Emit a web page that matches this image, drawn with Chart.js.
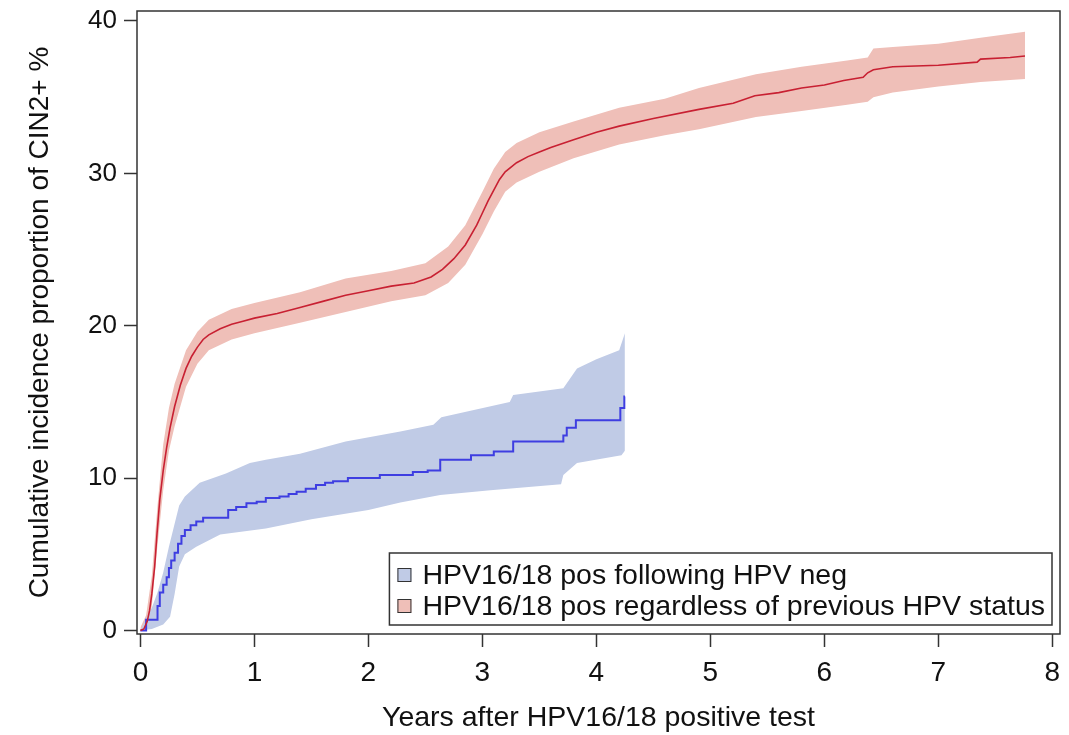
<!DOCTYPE html>
<html>
<head>
<meta charset="utf-8">
<script src="https://cdn.jsdelivr.net/npm/chart.js@4"></script>
<style>
  html, body { margin: 0; padding: 0; background: #fff; }
  #wrap { width: 1069px; height: 735px; }
</style>
</head>
<body>
<div id="wrap"><canvas id="cinChart" width="1069" height="735"></canvas></div>
<script>
// axis ticks
const xTicks = [0, 1, 2, 3, 4, 5, 6, 7, 8];
const yTicks = [0, 10, 20, 30, 40];
const xTitle = 'Years after HPV16/18 positive test';
const yTitle = 'Cumulative incidence proportion of CIN2+ %';

// HPV16/18 pos regardless of previous HPV status (red)
const redLabel = 'HPV16/18 pos regardless of previous HPV status';
const redTime = [0, 0.03, 0.06, 0.08, 0.10, 0.125, 0.146, 0.17, 0.2, 0.23, 0.26, 0.3, 0.35, 0.4, 0.45, 0.5, 0.55, 0.6, 0.7, 0.8, 0.9, 1.0, 1.2, 1.4, 1.6, 1.8, 2.0, 2.2, 2.4, 2.55, 2.65, 2.75, 2.85, 2.95, 3.0, 3.05, 3.1, 3.15, 3.2, 3.3, 3.4, 3.5, 3.6, 3.8, 4.0, 4.2, 4.5, 4.9, 5.2, 5.39, 5.6, 5.8, 6.0, 6.17, 6.34, 6.38, 6.43, 6.6, 7.0, 7.34, 7.37, 7.63, 7.76];
const redEst = [0, 0.1, 0.6, 1.3, 2.4, 4.2, 6.4, 8.6, 10.5, 12.0, 13.3, 14.7, 16.1, 17.2, 18.0, 18.6, 19.1, 19.4, 19.8, 20.1, 20.3, 20.5, 20.8, 21.2, 21.6, 22.0, 22.3, 22.6, 22.8, 23.2, 23.7, 24.4, 25.3, 26.6, 27.4, 28.2, 28.9, 29.6, 30.1, 30.7, 31.1, 31.4, 31.7, 32.2, 32.7, 33.1, 33.6, 34.2, 34.6, 35.1, 35.3, 35.6, 35.8, 36.1, 36.3, 36.6, 36.8, 37.0, 37.1, 37.3, 37.5, 37.6, 37.7];
const redBandTime = [0, 0.05, 0.1, 0.15, 0.2, 0.25, 0.3, 0.4, 0.5, 0.6, 0.8, 1.0, 1.4, 1.8, 2.2, 2.5, 2.7, 2.85, 3.0, 3.1, 3.2, 3.3, 3.5, 3.8, 4.2, 4.6, 4.9, 5.4, 5.8, 6.2, 6.38, 6.43, 6.6, 7.0, 7.37, 7.76];
const redUpper = [0.2, 1.0, 3.6, 8.2, 12.2, 14.6, 16.2, 18.4, 19.6, 20.4, 21.1, 21.5, 22.2, 23.1, 23.6, 24.1, 25.2, 26.6, 28.8, 30.3, 31.4, 32.0, 32.7, 33.4, 34.3, 34.9, 35.6, 36.5, 37.0, 37.4, 37.6, 38.2, 38.3, 38.5, 38.9, 39.3];
const redLower = [0, 0, 1.6, 5.6, 9.2, 11.8, 13.4, 16.0, 17.5, 18.4, 19.1, 19.5, 20.2, 20.9, 21.6, 22.0, 22.8, 24.0, 26.0, 27.5, 28.8, 29.4, 30.1, 31.0, 31.9, 32.5, 32.9, 33.7, 34.1, 34.5, 34.7, 35.0, 35.3, 35.7, 36.0, 36.2];

// HPV16/18 pos following HPV neg (blue)
const blueLabel = 'HPV16/18 pos following HPV neg';
const blueTime = [0, 0.05, 0.15, 0.17, 0.2, 0.23, 0.25, 0.27, 0.3, 0.33, 0.36, 0.39, 0.44, 0.49, 0.55, 0.77, 0.84, 0.93, 1.02, 1.1, 1.22, 1.3, 1.37, 1.45, 1.54, 1.62, 1.69, 1.82, 2.1, 2.39, 2.52, 2.63, 2.9, 3.1, 3.27, 3.71, 3.74, 3.82, 4.21, 4.245, 4.25];
const blueEst = [0, 0.7, 1.6, 2.5, 3.0, 3.5, 4.1, 4.6, 5.1, 5.7, 6.2, 6.6, 6.9, 7.15, 7.4, 7.9, 8.1, 8.35, 8.45, 8.7, 8.8, 8.95, 9.1, 9.3, 9.55, 9.7, 9.8, 10.0, 10.2, 10.4, 10.5, 11.2, 11.5, 11.75, 12.4, 12.8, 13.3, 13.8, 14.6, 15.35, 15.35];
const blueUpperTime = [0, 0.05, 0.1, 0.15, 0.2, 0.25, 0.3, 0.34, 0.39, 0.52, 0.75, 0.96, 1.1, 1.4, 1.8, 2.28, 2.57, 2.64, 3.24, 3.27, 3.71, 3.83, 4.0, 4.2, 4.25];
const blueUpper = [0, 0.8, 1.5, 2.5, 3.8, 5.5, 7.0, 8.2, 8.8, 9.7, 10.3, 11.0, 11.2, 11.6, 12.4, 13.06, 13.5, 14.0, 15.0, 15.45, 15.9, 17.2, 17.8, 18.4, 19.5];
const blueLowerTime = [0, 0.1, 0.2, 0.26, 0.3, 0.34, 0.39, 0.49, 0.7, 1.1, 1.5, 2.0, 2.28, 2.63, 3.07, 3.69, 3.71, 3.83, 4.22, 4.25];
const blueLower = [0, 0.1, 0.4, 0.9, 2.4, 4.2, 5.0, 5.5, 6.3, 6.7, 7.3, 7.9, 8.4, 8.9, 9.2, 9.6, 10.2, 11.0, 11.5, 11.8];

const toPoints = (xs, ys) => xs.map((x, i) => ({ x: x, y: ys[i] }));

const FONT = '"Liberation Sans", Arial, Helvetica, sans-serif';
const TEXT = '#111';
const AXIS = '#333';
Chart.defaults.font.family = FONT;

// box round the plot area
const frame = {
  id: 'frame',
  afterDatasetsDraw(chart) {
    const { ctx, chartArea: a } = chart;
    ctx.save();
    ctx.strokeStyle = AXIS;
    ctx.lineWidth = 1.5;
    ctx.strokeRect(a.left, a.top, a.right - a.left, a.bottom - a.top);
    ctx.restore();
  }
};

// legend box inside the plot, bottom right
const boxLegend = {
  id: 'boxLegend',
  afterDraw(chart) {
    const { ctx, chartArea: a } = chart;
    const items = chart.data.datasets.filter(d => d.inLegend);
    ctx.save();
    ctx.font = '28.5px ' + FONT;
    const textW = Math.max(...items.map(d => ctx.measureText(d.label).width));
    const rowH = 31;
    const w = textW + 40;
    const h = items.length * rowH + 10;
    const right = a.right - 8;
    const bottom = a.bottom - 9;
    const left = right - w;
    const top = bottom - h;
    ctx.fillStyle = '#fff';
    ctx.fillRect(left, top, w, h);
    ctx.strokeStyle = AXIS;
    ctx.lineWidth = 1.5;
    ctx.strokeRect(left, top, w, h);
    items.forEach((d, i) => {
      const cy = top + 22 + i * rowH;
      ctx.fillStyle = d.backgroundColor;
      ctx.fillRect(left + 8, cy - 7, 14, 14);
      ctx.lineWidth = 1;
      ctx.strokeStyle = AXIS;
      ctx.strokeRect(left + 8.5, cy - 6.5, 13, 13);
      ctx.fillStyle = TEXT;
      ctx.textBaseline = 'middle';
      ctx.textAlign = 'left';
      ctx.fillText(d.label, left + 33, cy + 1);
    });
    ctx.restore();
  }
};

const band = (label, pts, color, fill, inLegend) => ({
  label: label,
  data: pts,
  backgroundColor: color,
  borderColor: 'rgba(0,0,0,0)',
  borderWidth: 0,
  pointRadius: 0,
  fill: fill,
  inLegend: inLegend,
  order: 1
});

new Chart(document.getElementById('cinChart'), {
  type: 'line',
  data: {
    datasets: [
      band(blueLabel, toPoints(blueUpperTime, blueUpper), 'rgb(192, 203, 230)', '+1', true),
      band('blue lower', toPoints(blueLowerTime, blueLower), 'rgb(192, 203, 230)', false, false),
      band(redLabel, toPoints(redBandTime, redUpper), 'rgb(239, 191, 184)', '+1', true),
      band('red lower', toPoints(redBandTime, redLower), 'rgb(239, 191, 184)', false, false),
      {
        label: 'red estimate',
        data: toPoints(redTime, redEst),
        borderColor: 'rgb(200, 32, 50)',
        borderWidth: 1.6,
        pointRadius: 0,
        fill: false,
        tension: 0,
        order: 0
      },
      {
        label: 'blue estimate',
        data: toPoints(blueTime, blueEst),
        borderColor: 'rgb(62, 62, 225)',
        borderWidth: 2,
        pointRadius: 0,
        fill: false,
        stepped: 'before',
        order: 0
      }
    ]
  },
  options: {
    responsive: false,
    animation: false,
    layout: { padding: { top: 11, right: 9, bottom: 0, left: 0 }, autoPadding: false },
    scales: {
      x: {
        type: 'linear',
        min: -0.03,
        max: 8.067,
        afterBuildTicks: s => { s.ticks = xTicks.map(v => ({ value: v })); },
        afterFit: s => { s.height = 101; s.paddingLeft = 0; s.paddingRight = 0; },
        grid: { drawOnChartArea: false, drawTicks: true, tickLength: 13, tickColor: AXIS, tickWidth: 1.5 },
        border: { display: false },
        ticks: { color: TEXT, font: { size: 28 }, padding: 9, maxRotation: 0, autoSkip: false },
        title: { display: true, text: xTitle, color: TEXT, font: { size: 28.5 }, padding: { top: 0, bottom: 0 } }
      },
      y: {
        type: 'linear',
        min: -0.23,
        max: 40.656,
        afterBuildTicks: s => { s.ticks = yTicks.map(v => ({ value: v })); },
        afterFit: s => { s.width = 137; s.paddingTop = 0; s.paddingBottom = 0; },
        grid: { drawOnChartArea: false, drawTicks: true, tickLength: 13, tickColor: AXIS, tickWidth: 1.5 },
        border: { display: false },
        ticks: { color: TEXT, font: { size: 26 }, padding: 7 },
        title: { display: true, text: yTitle, color: TEXT, font: { size: 28 }, padding: { top: 23, bottom: 0 } }
      }
    },
    plugins: {
      legend: { display: false },
      tooltip: { enabled: false }
    }
  },
  plugins: [frame, boxLegend]
});
</script>
</body>
</html>
